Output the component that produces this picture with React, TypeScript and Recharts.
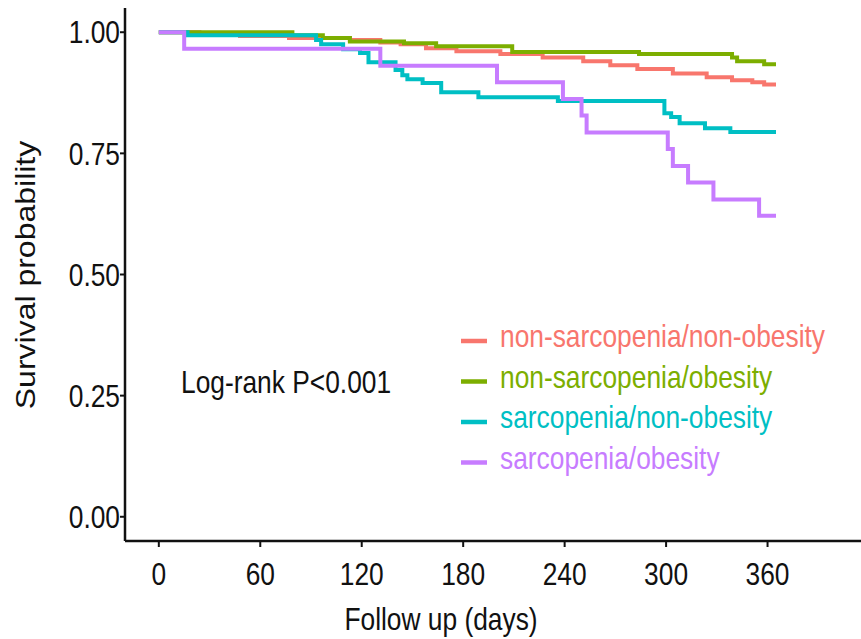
import { LineChart, Line, XAxis, YAxis, Legend } from 'recharts'

// Kaplan-Meier curves: step times (days) and survival after each step
const groupNames = [
  'non-sarcopenia/non-obesity',
  'non-sarcopenia/obesity',
  'sarcopenia/non-obesity',
  'sarcopenia/obesity',
]
const groupColors = ['#F8766D', '#7CAE00', '#00BFC4', '#C77CFF']

const nsnoDays = [0, 24, 48, 77, 113, 131, 143, 158, 176, 202, 227, 251, 267, 283, 304, 324, 339, 351, 358, 365]
const nsnoSurv = [1, 0.998, 0.992, 0.988, 0.984, 0.979, 0.975, 0.967, 0.961, 0.955, 0.948, 0.94, 0.932, 0.924, 0.915, 0.907, 0.901, 0.897, 0.892, 0.892]

const nsoDays = [0, 79, 97, 113, 145, 164, 209, 284, 339, 342, 358, 365]
const nsoSurv = [1, 0.994, 0.988, 0.981, 0.977, 0.971, 0.959, 0.955, 0.948, 0.94, 0.934, 0.934]

const snoDays = [0, 17, 93, 96, 109, 119, 124, 140, 144, 147, 156, 167, 189, 236, 299, 303, 308, 323, 338, 365]
const snoSurv = [1, 0.994, 0.984, 0.975, 0.965, 0.957, 0.938, 0.922, 0.911, 0.903, 0.895, 0.876, 0.866, 0.858, 0.833, 0.825, 0.812, 0.802, 0.794, 0.794]

const soDays = [0, 15, 131, 200, 239, 250, 253, 301, 304, 313, 328, 355, 365]
const soSurv = [1, 0.966, 0.931, 0.897, 0.862, 0.828, 0.793, 0.759, 0.724, 0.69, 0.655, 0.621, 0.621]

const dayTicks = [0, 60, 120, 180, 240, 300, 360]
const survTicks = [0, 0.25, 0.5, 0.75, 1]

const toRows = (days: number[], surv: number[]) =>
  days.map((day, i) => ({ day, surv: surv[i] }))

const series = [
  toRows(nsnoDays, nsnoSurv),
  toRows(nsoDays, nsoSurv),
  toRows(snoDays, snoSurv),
  toRows(soDays, soSurv),
]

const font = '"Liberation Sans", Arial, Helvetica, sans-serif'
const squeeze = 0.85
const ink = '#111'

function DayTick({ x, y, payload }: any) {
  return (
    <g transform={`translate(${x},${y})`}>
      <text transform={`scale(${squeeze},1)`} y={36} textAnchor="middle" fontSize={31} fontFamily={font} fill={ink}>
        {payload.value}
      </text>
    </g>
  )
}

function SurvTick({ x, y, payload }: any) {
  return (
    <g transform={`translate(${x},${y})`}>
      <text transform={`scale(${squeeze},1)`} dy="0.36em" textAnchor="end" fontSize={31} fontFamily={font} fill={ink}>
        {Number(payload.value).toFixed(2)}
      </text>
    </g>
  )
}

function KmLegend({ payload }: any) {
  return (
    <svg width={420} height={170}>
      {(payload || []).map((item: any, i: number) => {
        const y = 31 + i * 40.5
        return (
          <g key={item.value}>
            <line x1={21} x2={47} y1={y} y2={y} stroke={item.color} strokeWidth={4.5} />
            <text transform={`translate(60,${y + 6}) scale(${squeeze},1)`} fontSize={31} fontFamily={font} fill={item.color}>
              {item.value}
            </text>
          </g>
        )
      })}
    </svg>
  )
}

export default function App() {
  return (
    <div style={{ position: 'absolute', left: 0, top: 0, width: 861, height: 639, overflow: 'hidden', background: '#fff' }}>
      <LineChart width={880} height={639} margin={{ top: 8, right: 11, bottom: 0, left: 0 }}>
        <XAxis
          type="number"
          dataKey="day"
          domain={[-20, 420]}
          ticks={dayTicks}
          allowDataOverflow
          height={98}
          tickSize={6}
          tickMargin={2}
          tick={<DayTick />}
          axisLine={{ stroke: ink, strokeWidth: 2.5 }}
          tickLine={{ stroke: ink, strokeWidth: 2 }}
          label={{
            content: () => (
              <text transform={`translate(441,630) scale(${squeeze},1)`} textAnchor="middle" fontSize={31} fontFamily={font} fill={ink}>
                Follow up (days)
              </text>
            ),
          }}
        />
        <YAxis
          type="number"
          dataKey="surv"
          domain={[-0.05, 1.05]}
          ticks={survTicks}
          allowDataOverflow
          width={125}
          tickSize={5}
          tickMargin={0}
          tick={<SurvTick />}
          axisLine={{ stroke: ink, strokeWidth: 2.5 }}
          tickLine={{ stroke: ink, strokeWidth: 2 }}
          label={{
            content: () => (
              <text transform={`translate(35,275) scale(${squeeze},1) rotate(-90)`} textAnchor="middle" fontSize={32} fontFamily={font} fill={ink}>
                Survival probability
              </text>
            ),
          }}
        />
        {series.map((rows, i) => (
          <Line
            key={groupNames[i]}
            data={rows}
            dataKey="surv"
            name={groupNames[i]}
            type="stepAfter"
            stroke={groupColors[i]}
            strokeWidth={4}
            dot={false}
            activeDot={false}
            isAnimationActive={false}
          />
        ))}
        <Legend
          layout="vertical"
          align="center"
          verticalAlign="middle"
          content={<KmLegend />}
          wrapperStyle={{ left: 440, top: 310, width: 420, height: 170 }}
        />
      </LineChart>
      <svg style={{ position: 'absolute', left: 0, top: 0, pointerEvents: 'none' }} width={861} height={639}>
        <text transform={`translate(181,393) scale(${squeeze},1)`} fontSize={31} fontFamily={font} fill={ink}>
          Log-rank P&lt;0.001
        </text>
      </svg>
    </div>
  )
}
